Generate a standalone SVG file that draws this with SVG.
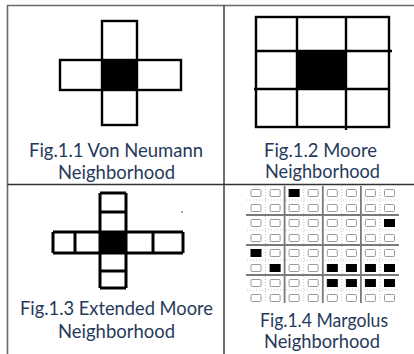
<svg xmlns="http://www.w3.org/2000/svg" xmlns:xlink="http://www.w3.org/1999/xlink" width="414" height="354" viewBox="0 0 414 354">
<style>
.cap{font-family:Lato,"Liberation Sans",sans-serif;font-size:19px;fill:#27395a;text-anchor:middle}
.blk{fill:none;stroke:#000;stroke-width:2.4}
.tb{stroke:#6a6a6a;stroke-width:1.6;fill:none}
.tm{stroke:#333;stroke-width:1.4;fill:none}
.mc{fill:#fff;stroke:#9a9a9a;stroke-width:1}
.mb{fill:#000;stroke:#000;stroke-width:1}
.dot{stroke:#c4c4c4;stroke-width:1;stroke-dasharray:1 2;fill:none}
.thk{stroke:#7a7a7a;stroke-width:1.8;fill:none}
</style>
<defs>
<rect id="c" width="10" height="7" rx="1" class="mc"/>
<rect id="b" width="10" height="7" class="mb"/>
</defs>
<rect width="414" height="354" fill="#fff"/>
<g id="table">
<path class="tb" d="M7.5,354 V5.5 H414"/>
<path class="tm" d="M224,5.5 V354 M7.5,184.5 H414"/>
</g>
<g id="fig1">
<rect x="102" y="60" width="35" height="30" fill="#000"/>
<rect class="blk" x="102" y="21" width="35" height="104"/>
<rect class="blk" x="60" y="60" width="121" height="30"/>
<text class="cap" x="116" y="157" textLength="174" lengthAdjust="spacingAndGlyphs">Fig.1.1 Von Neumann</text>
<text class="cap" x="116.5" y="179" textLength="117" lengthAdjust="spacingAndGlyphs">Neighborhood</text>
</g>
<g id="fig2">
<rect x="297" y="50" width="50" height="39" fill="#000"/>
<rect class="blk" x="256" y="17" width="133" height="110"/>
<path class="blk" d="M297,17 V127 M346,17 V130 M256,51 H392 M254,89 H389"/>
<text class="cap" x="320.5" y="157" textLength="113" lengthAdjust="spacingAndGlyphs">Fig.1.2 Moore</text>
<text class="cap" x="322.5" y="178" textLength="115" lengthAdjust="spacingAndGlyphs">Neighborhood</text>
</g>
<g id="fig3">
<rect x="100" y="232" width="26" height="21" fill="#000"/>
<path fill="none" stroke="#000" stroke-width="3" d="M100,193 V288 M126,193 V288 M100,193 H126 M100,212 H126 M100,271 H126 M100,288 H126 M53,232 H183 M53,253 H183 M53,232 V253 M75,232 V253 M153,232 V253 M183,232 V253"/>
<circle cx="182" cy="212" r="0.8" fill="#333"/>
<text class="cap" x="116.5" y="315" textLength="193" lengthAdjust="spacingAndGlyphs">Fig.1.3 Extended Moore</text>
<text class="cap" x="116.5" y="338" textLength="117" lengthAdjust="spacingAndGlyphs">Neighborhood</text>
</g>
<g id="fig4">
<path class="dot" d="M265.5,186 V303 M303.7,186 V303 M341.8,186 V303 M380,186 V303 M247,200 H399 M247,230 H399 M247,260 H399 M247,290 H399"/>
<path class="thk" d="M284.6,186 V303 M322.8,186 V303 M360.9,186 V303 M246,215 H399 M246,245 H399 M246,275 H399"/>
<g id="r1"><use xlink:href="#c" x="251" y="189.5"/><use xlink:href="#c" x="270.1" y="189.5"/><use xlink:href="#b" x="289.1" y="189.5"/><use xlink:href="#c" x="308.2" y="189.5"/><use xlink:href="#c" x="327.3" y="189.5"/><use xlink:href="#c" x="346.4" y="189.5"/><use xlink:href="#c" x="365.4" y="189.5"/><use xlink:href="#c" x="384.5" y="189.5"/></g>
<g id="r2"><use xlink:href="#c" x="251" y="204.5"/><use xlink:href="#c" x="270.1" y="204.5"/><use xlink:href="#c" x="289.1" y="204.5"/><use xlink:href="#c" x="308.2" y="204.5"/><use xlink:href="#c" x="327.3" y="204.5"/><use xlink:href="#c" x="346.4" y="204.5"/><use xlink:href="#c" x="365.4" y="204.5"/><use xlink:href="#c" x="384.5" y="204.5"/></g>
<g id="r3"><use xlink:href="#c" x="251" y="219.5"/><use xlink:href="#c" x="270.1" y="219.5"/><use xlink:href="#c" x="289.1" y="219.5"/><use xlink:href="#c" x="308.2" y="219.5"/><use xlink:href="#c" x="327.3" y="219.5"/><use xlink:href="#c" x="346.4" y="219.5"/><use xlink:href="#c" x="365.4" y="219.5"/><use xlink:href="#b" x="384.5" y="219.5"/></g>
<g id="r4"><use xlink:href="#c" x="251" y="234.5"/><use xlink:href="#c" x="270.1" y="234.5"/><use xlink:href="#c" x="289.1" y="234.5"/><use xlink:href="#c" x="308.2" y="234.5"/><use xlink:href="#c" x="327.3" y="234.5"/><use xlink:href="#c" x="346.4" y="234.5"/><use xlink:href="#c" x="365.4" y="234.5"/><use xlink:href="#c" x="384.5" y="234.5"/></g>
<g id="r5"><use xlink:href="#b" x="251" y="249.5"/><use xlink:href="#c" x="270.1" y="249.5"/><use xlink:href="#c" x="289.1" y="249.5"/><use xlink:href="#c" x="308.2" y="249.5"/><use xlink:href="#c" x="327.3" y="249.5"/><use xlink:href="#c" x="346.4" y="249.5"/><use xlink:href="#c" x="365.4" y="249.5"/><use xlink:href="#c" x="384.5" y="249.5"/></g>
<g id="r6"><use xlink:href="#c" x="251" y="264.5"/><use xlink:href="#b" x="270.1" y="264.5"/><use xlink:href="#c" x="289.1" y="264.5"/><use xlink:href="#c" x="308.2" y="264.5"/><use xlink:href="#b" x="327.3" y="264.5"/><use xlink:href="#b" x="346.4" y="264.5"/><use xlink:href="#b" x="365.4" y="264.5"/><use xlink:href="#b" x="384.5" y="264.5"/></g>
<g id="r7"><use xlink:href="#c" x="251" y="279.5"/><use xlink:href="#c" x="270.1" y="279.5"/><use xlink:href="#c" x="289.1" y="279.5"/><use xlink:href="#c" x="308.2" y="279.5"/><use xlink:href="#b" x="327.3" y="279.5"/><use xlink:href="#b" x="346.4" y="279.5"/><use xlink:href="#b" x="365.4" y="279.5"/><use xlink:href="#b" x="384.5" y="279.5"/></g>
<g id="r8"><use xlink:href="#c" x="251" y="294.5"/><use xlink:href="#c" x="270.1" y="294.5"/><use xlink:href="#c" x="289.1" y="294.5"/><use xlink:href="#c" x="308.2" y="294.5"/><use xlink:href="#c" x="327.3" y="294.5"/><use xlink:href="#c" x="346.4" y="294.5"/><use xlink:href="#c" x="365.4" y="294.5"/><use xlink:href="#c" x="384.5" y="294.5"/></g>
<text class="cap" x="324" y="327" textLength="128" lengthAdjust="spacingAndGlyphs">Fig.1.4 Margolus</text>
<text class="cap" x="322" y="348" textLength="116" lengthAdjust="spacingAndGlyphs">Neighborhood</text>
</g>
</svg>
